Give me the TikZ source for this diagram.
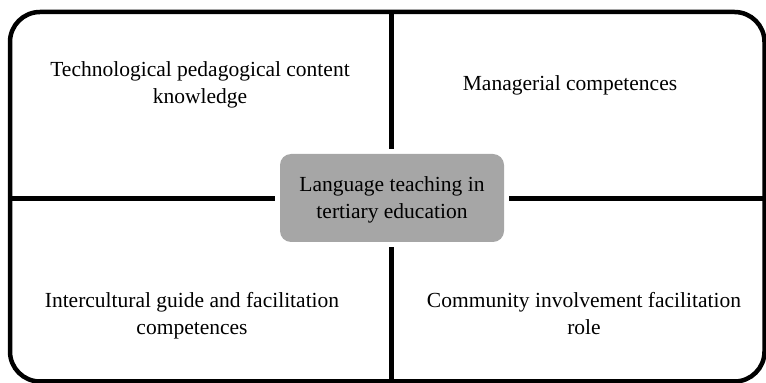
\documentclass[tikz,border=0pt]{standalone}
\usepackage{fontspec}
\setmainfont{Liberation Serif}
\begin{document}
\begin{tikzpicture}[x=1pt,y=1pt,
  frame/.style={line width=4.5pt,draw=black,rounded corners=30pt},
  divider/.style={line width=4.8pt,draw=black,shorten >=5pt},
  centerbox/.style={fill=boxgray,rounded corners=11pt,minimum width=224pt,minimum height=88pt,align=center,font=\fontsize{21.5}{27}\selectfont,inner sep=0pt,text depth=-5pt},
  label/.style={align=center,font=\fontsize{21.5}{27}\selectfont,inner sep=0pt}]
\definecolor{boxgray}{HTML}{A6A6A6}
\useasboundingbox (0,0) rectangle (766,383);
\draw[frame] (10,1.5) rectangle (764.5,371);
\node[centerbox] (c) at (392,185) {Language teaching in\\tertiary education};
\coordinate (ft) at (391.5,371);
\coordinate (fb) at (391.5,1.5);
\coordinate (fl) at (10,184.5);
\coordinate (fr) at (764.5,184.5);
\draw[divider] (ft) -- (ft|-c.north);
\draw[divider] (fb) -- (fb|-c.south);
\draw[divider] (fl) -- (c.west|-fl);
\draw[divider] (fr) -- (c.east|-fr);
\node[label] (tl) at (200,298) {Technological pedagogical content\\knowledge};
\node[label] (tr) at (570,298) {Managerial competences};
\node[label] (bl) at (192,67) {Intercultural guide and facilitation\\competences};
\node[label] (br) at (584,69) {Community involvement facilitation\\role};
\end{tikzpicture}
\end{document}
